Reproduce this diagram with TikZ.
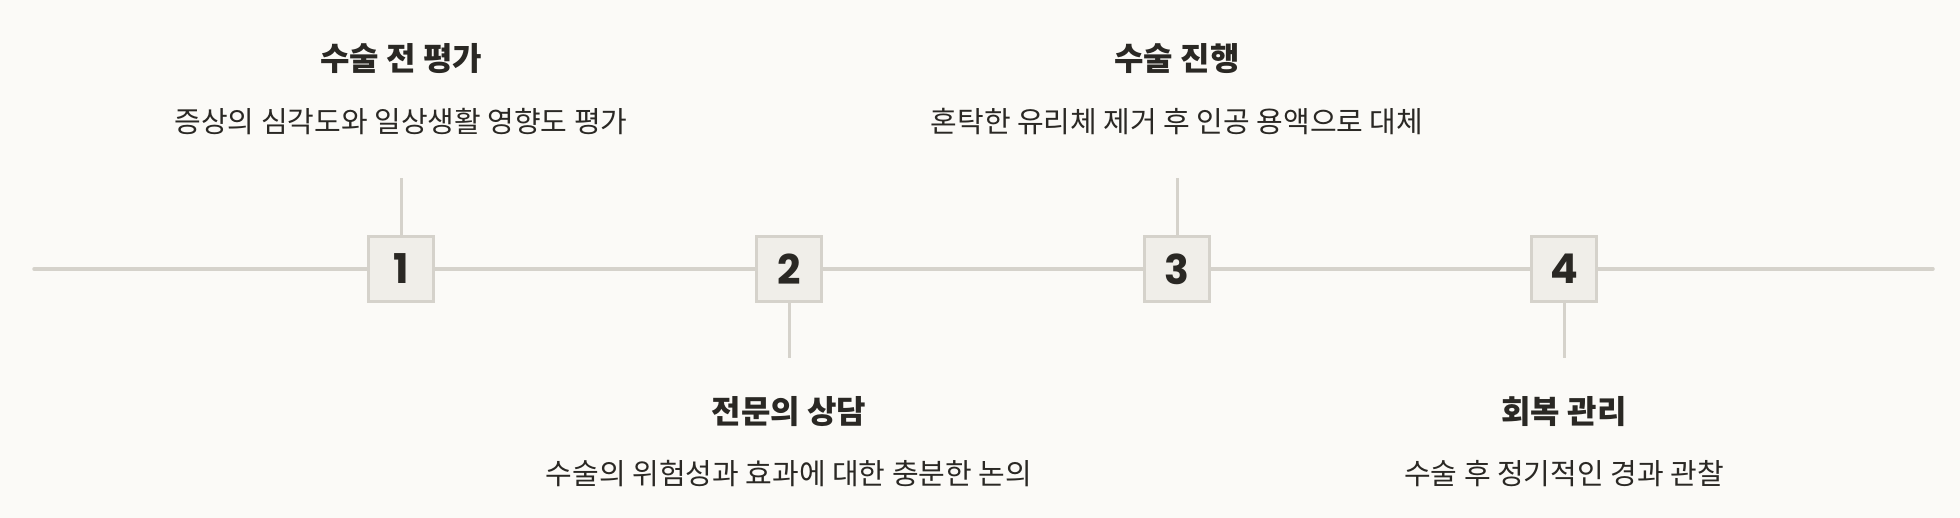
\documentclass[tikz,border=0pt]{standalone}
\usepackage{fontspec}
\newfontfamily\krfont{Noto Sans CJK KR}
\newfontfamily\numfont{Poppins}[UprightFont=* Bold]
\definecolor{bgcol}{HTML}{FBFAF7}
\definecolor{linecol}{HTML}{D5D2CB}
\definecolor{boxcol}{HTML}{F0EEE9}
\definecolor{inkcol}{HTML}{2A2824}
\tikzset{
  stepbox/.style={draw=linecol, fill=boxcol, line width=1.4pt, minimum size=32.5pt,
    inner sep=0pt, text=inkcol, font=\numfont\fontsize{20.5}{20}\selectfont},
  axis/.style={draw=linecol, line width=1.75pt, line cap=round},
  tick/.style={draw=linecol, line width=1.5pt},
  title/.style={text=inkcol, font=\krfont\bfseries\fontsize{16}{18}\selectfont},
  desc/.style={text=inkcol, font=\krfont\fontsize{14.5}{17}\selectfont},
}
\begin{document}
\begin{tikzpicture}[x=0.5pt, y=0.5pt]
  \fill[bgcol] (0,0) rectangle (1960,518);
  \useasboundingbox (0,0) rectangle (1960,518);
  \coordinate (L) at (34,249);
  \coordinate (R) at (1933,249);
  \coordinate (T1) at (401,340);
  \coordinate (T2) at (789,160);
  \coordinate (T3) at (1177,340);
  \coordinate (T4) at (1564,160);
  % steps on the axis
  \node[stepbox] (S1) at (401,249) {1};
  \node[stepbox] (S2) at (789,249) {2};
  \node[stepbox] (S3) at (1177,249) {3};
  \node[stepbox] (S4) at (1564,249) {4};
  \draw[axis] (L) -- (S1);
  \draw[axis] (S1) -- (S2);
  \draw[axis] (S2) -- (S3);
  \draw[axis] (S3) -- (S4);
  \draw[axis] (S4) -- (R);
  \draw[tick] (S1.north) -- (T1);
  \draw[tick] (S2.south) -- (T2);
  \draw[tick] (S3.north) -- (T3);
  \draw[tick] (S4.south) -- (T4);
  % labels
  \node[title] (A1) at (401,459) {수술 전 평가};
  \node[desc] (B1) at (401,396) {증상의 심각도와 일상생활 영향도 평가};
  \node[title] (A2) at (789,106) {전문의 상담};
  \node[desc] (B2) at (789,44) {수술의 위험성과 효과에 대한 충분한 논의};
  \node[title] (A3) at (1177,459) {수술 진행};
  \node[desc] (B3) at (1177,396) {혼탁한 유리체 제거 후 인공 용액으로 대체};
  \node[title] (A4) at (1564,106) {회복 관리};
  \node[desc] (B4) at (1564,44) {수술 후 정기적인 경과 관찰};
\end{tikzpicture}
\end{document}
